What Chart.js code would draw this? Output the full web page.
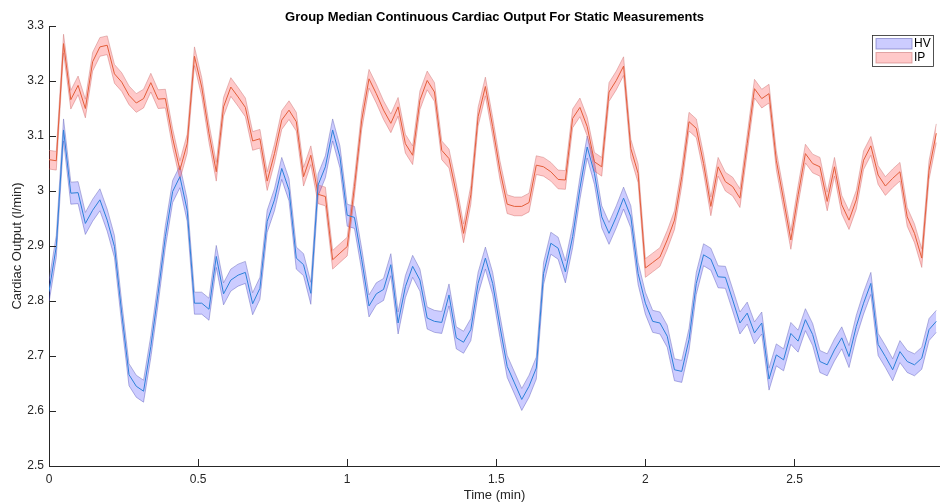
<!DOCTYPE html>
<html>
<head>
<meta charset="utf-8">
<script src="https://cdn.jsdelivr.net/npm/chart.js@4/dist/chart.umd.min.js"></script>
<style>
  html, body { margin: 0; padding: 0; background: #fff; }
  #wrap { width: 940px; height: 504px; }
</style>
</head>
<body>
<div id="wrap"><canvas id="c" width="940" height="504"></canvas></div>
<script>
// Sampling interval of the recordings, in minutes
const SAMPLE_MIN = 1 / 41;

// Group medians of continuous cardiac output (l/min)
const hvMedian = [
  2.817, 2.899, 3.111, 2.996, 2.997, 2.941, 2.965, 2.984, 2.947, 2.899,
  2.778, 2.666, 2.645, 2.636, 2.717, 2.814, 2.917, 2.999, 3.026, 2.965,
  2.796, 2.796, 2.785, 2.881, 2.813, 2.838, 2.847, 2.852, 2.795, 2.823,
  2.945, 2.984, 3.041, 3.002, 2.878, 2.866, 2.814, 3.011, 3.044, 3.111,
  3.062, 2.956, 2.952, 2.875, 2.791, 2.813, 2.821, 2.866, 2.760, 2.826,
  2.863, 2.838, 2.769, 2.763, 2.761, 2.811, 2.733, 2.725, 2.748, 2.832,
  2.878, 2.832, 2.754, 2.681, 2.651, 2.621, 2.645, 2.678, 2.850, 2.905,
  2.896, 2.853, 2.917, 3.005, 3.080, 3.032, 2.953, 2.923, 2.953, 2.987,
  2.953, 2.850, 2.796, 2.763, 2.760, 2.736, 2.675, 2.672, 2.730, 2.832,
  2.884, 2.876, 2.844, 2.843, 2.802, 2.760, 2.778, 2.742, 2.760, 2.658,
  2.702, 2.693, 2.741, 2.727, 2.766, 2.739, 2.690, 2.684, 2.711, 2.733,
  2.699, 2.754, 2.796, 2.832, 2.721, 2.699, 2.675, 2.708, 2.690, 2.684,
  2.696, 2.748, 2.763
];
const ipMedian = [
  3.057, 3.055, 3.268, 3.166, 3.192, 3.150, 3.235, 3.262, 3.265, 3.213,
  3.198, 3.174, 3.160, 3.168, 3.197, 3.167, 3.168, 3.096, 3.038, 3.086,
  3.245, 3.189, 3.105, 3.035, 3.153, 3.189, 3.171, 3.152, 3.091, 3.095,
  3.018, 3.068, 3.129, 3.147, 3.126, 3.026, 3.065, 2.994, 2.990, 2.875,
  2.887, 2.899, 3.008, 3.129, 3.204, 3.177, 3.147, 3.123, 3.153, 3.086,
  3.065, 3.165, 3.201, 3.180, 3.074, 3.059, 2.996, 2.923, 2.993, 3.135,
  3.190, 3.117, 3.038, 2.976, 2.972, 2.972, 2.979, 3.047, 3.044, 3.035,
  3.021, 3.020, 3.132, 3.152, 3.117, 3.053, 3.044, 3.180, 3.201, 3.227,
  3.077, 3.032, 2.860, 2.870, 2.880, 2.911, 2.947, 3.026, 3.126, 3.114,
  3.050, 2.972, 3.044, 3.017, 3.008, 2.987, 3.086, 3.186, 3.168, 3.177,
  3.056, 2.984, 2.911, 2.993, 3.068, 3.050, 3.044, 2.981, 3.044, 2.975,
  2.947, 2.984, 3.056, 3.082, 3.029, 3.009, 3.023, 3.035, 2.953, 2.923,
  2.878, 3.038, 3.105
];

// Half-width of the shaded spread around each median
const hvSpread = 0.020;
const ipSpread = 0.017;

const seriesNames = ['HV', 'IP'];
const xTicks = [0, 0.5, 1, 1.5, 2, 2.5];
const yTicks = [2.5, 2.6, 2.7, 2.8, 2.9, 3.0, 3.1, 3.2, 3.3];

const X_MAX = 2.988;
const Y_MIN = 2.5, Y_MAX = 3.3;

const AXIS_COLOR = '#262626';
const FONT = '"Liberation Sans", Arial, Helvetica, sans-serif';

function pts(values, offset) {
  return values.map((v, i) => ({ x: i * SAMPLE_MIN, y: v + offset }));
}

const bandStyle = {
  HV: { fill: 'rgba(0,0,255,0.2)', edge: 'rgba(105,105,185,0.6)', line: 'rgb(44,128,216)' },
  IP: { fill: 'rgba(255,0,0,0.21)', edge: 'rgba(205,120,120,0.6)', line: 'rgb(226,94,58)' }
};

const datasets = [
  // mean lines on top
  { label: 'HV', data: pts(hvMedian, 0), borderColor: bandStyle.HV.line, borderWidth: 1, pointRadius: 0, fill: false, order: 0 },
  { label: 'IP', data: pts(ipMedian, 0), borderColor: bandStyle.IP.line, borderWidth: 1, pointRadius: 0, fill: false, order: 1 },
  // IP spread band
  { label: 'IP upper', data: pts(ipMedian, ipSpread), borderColor: bandStyle.IP.edge, borderWidth: 0.8, pointRadius: 0, backgroundColor: bandStyle.IP.fill, fill: '+1', order: 2 },
  { label: 'IP lower', data: pts(ipMedian, -ipSpread), borderColor: bandStyle.IP.edge, borderWidth: 0.8, pointRadius: 0, fill: false, order: 3 },
  // HV spread band
  { label: 'HV upper', data: pts(hvMedian, hvSpread), borderColor: bandStyle.HV.edge, borderWidth: 0.8, pointRadius: 0, backgroundColor: bandStyle.HV.fill, fill: '+1', order: 4 },
  { label: 'HV lower', data: pts(hvMedian, -hvSpread), borderColor: bandStyle.HV.edge, borderWidth: 0.8, pointRadius: 0, fill: false, order: 5 }
];

// Inward tick marks, titles and the boxed legend
const decorations = {
  id: 'decorations',
  afterDraw(chart) {
    const ctx = chart.ctx;
    const xs = chart.scales.x, ys = chart.scales.y;
    const area = chart.chartArea;
    ctx.save();
    ctx.strokeStyle = AXIS_COLOR;
    ctx.lineWidth = 1;
    ctx.beginPath();
    xTicks.forEach(t => {
      if (t === 0) return;
      const px = Math.round(xs.getPixelForValue(t)) + 0.5;
      ctx.moveTo(px, area.bottom);
      ctx.lineTo(px, area.bottom - 7);
    });
    yTicks.forEach(t => {
      const py = Math.round(ys.getPixelForValue(t)) + 0.5;
      ctx.moveTo(area.left, py);
      ctx.lineTo(area.left + 7, py);
    });
    ctx.stroke();

    // chart title
    ctx.fillStyle = '#000';
    ctx.font = 'bold 13px ' + FONT;
    ctx.textAlign = 'center';
    ctx.textBaseline = 'middle';
    const cx = (area.left + area.right) / 2;
    ctx.fillText('Group Median Continuous Cardiac Output For Static Measurements', cx, 17);

    // axis titles
    ctx.fillStyle = AXIS_COLOR;
    ctx.font = '13px ' + FONT;
    ctx.fillText('Time (min)', cx, 495);
    ctx.save();
    ctx.translate(17, (area.top + area.bottom) / 2);
    ctx.rotate(-Math.PI / 2);
    ctx.fillText('Cardiac Output (l/min)', 0, 0);
    ctx.restore();

    // legend
    const lx = 872.5, ly = 35.5, lw = 61, lh = 31;
    ctx.fillStyle = '#fff';
    ctx.fillRect(lx, ly, lw, lh);
    ctx.strokeStyle = AXIS_COLOR;
    ctx.lineWidth = 0.8;
    ctx.strokeRect(lx, ly, lw, lh);
    ctx.font = '12px ' + FONT;
    ctx.textAlign = 'left';
    seriesNames.forEach((name, k) => {
      const st = bandStyle[name];
      const py = 38.5 + k * 14;
      ctx.fillStyle = '#fff';
      ctx.fillRect(876, py, 36, 10.5);
      ctx.fillStyle = st.fill;
      ctx.fillRect(876, py, 36, 10.5);
      ctx.strokeStyle = st.edge;
      ctx.lineWidth = 1;
      ctx.strokeRect(876, py, 36, 10.5);
      ctx.fillStyle = '#000';
      ctx.fillText(name, 914, py + 5.5);
    });
    ctx.restore();
  }
};

new Chart(document.getElementById('c'), {
  type: 'line',
  data: { datasets },
  options: {
    responsive: false,
    animation: false,
    devicePixelRatio: 1,
    layout: { padding: { top: 26, right: 0, left: 0, bottom: 0 } },
    plugins: {
      legend: { display: false },
      title: { display: false },
      tooltip: { enabled: false },
      filler: { propagate: false }
    },
    elements: { line: { tension: 0 } },
    scales: {
      x: {
        type: 'linear',
        min: 0,
        max: X_MAX,
        afterBuildTicks(scale) { scale.ticks = xTicks.map(v => ({ value: v })); },
        afterFit(scale) { scale.height = 38; },
        grid: { display: false, drawTicks: false },
        border: { display: true, color: AXIS_COLOR, width: 1 },
        ticks: {
          includeBounds: false,
          padding: 6,
          color: AXIS_COLOR,
          font: { family: FONT, size: 12 },
          maxRotation: 0,
          autoSkip: false,
          callback: v => String(v)
        }
      },
      y: {
        type: 'linear',
        min: Y_MIN,
        max: Y_MAX,
        afterBuildTicks(scale) { scale.ticks = yTicks.map(v => ({ value: v })); },
        afterFit(scale) { scale.width = 49; },
        grid: { display: false, drawTicks: false },
        border: { display: true, color: AXIS_COLOR, width: 1 },
        ticks: {
          padding: 5,
          color: AXIS_COLOR,
          font: { family: FONT, size: 12 },
          autoSkip: false,
          callback: v => String(Math.round(v * 10) / 10)
        }
      }
    }
  },
  plugins: [decorations]
});
</script>
</body>
</html>
